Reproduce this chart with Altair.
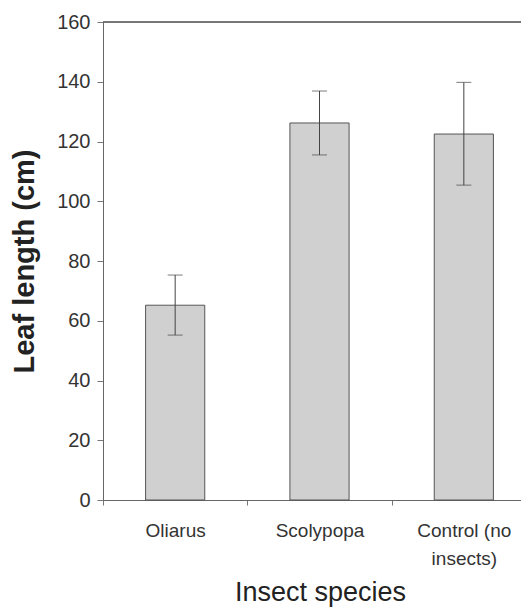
import altair as alt
import pandas as pd

species = ["Oliarus", "Scolypopa", "Control (no insects)"]
means = [65.2, 126.2, 122.5]
err_low = [55.2, 115.5, 105.4]
err_high = [75.3, 136.9, 139.8]

df = pd.DataFrame({"species": species, "mean": means, "lo": err_low, "hi": err_high})

font = "Liberation Sans"
xscale = alt.Scale(paddingInner=0, paddingOuter=0, range=[0, 433])
xenc = alt.X(
    "species:N",
    sort=species,
    scale=xscale,
    title="Insect species",
    axis=alt.Axis(
        labelAngle=0,
        labelFontSize=19,
        labelFont=font,
        labelColor="#333333",
        labelPadding=16,
        labelLineHeight=28,
        labelExpr="datum.value == 'Control (no insects)' ? ['Control (no', 'insects)'] : datum.value",
        tickBand="extent",
        tickSize=5,
        tickColor="#777777",
        domainColor="#666666",
        titleFontSize=27,
        titleFont=font,
        titleFontWeight="normal",
        titleColor="#222222",
        titlePadding=11,
        titleX=217,
    ),
)

bars = alt.Chart(df).mark_bar(
    width=alt.RelativeBandSize(0.41),
    color="#d0d0d0",
    stroke="#555555",
    strokeWidth=1,
).encode(
    x=xenc,
    y=alt.Y(
        "mean:Q",
        scale=alt.Scale(domain=[0, 160]),
        title="Leaf length (cm)",
        axis=alt.Axis(
            values=[0, 20, 40, 60, 80, 100, 120, 140, 160],
            grid=False,
            labelFontSize=20,
            labelFont=font,
            labelColor="#333333",
            labelPadding=7,
            tickSize=6,
            tickColor="#777777",
            domainColor="#666666",
            titleFontSize=29,
            titleFont=font,
            titleFontWeight="bold",
            titleColor="#222222",
            titlePadding=17,
        ),
    ),
)

top_line = alt.Chart(df).mark_rule(color="#666666", strokeWidth=1).encode(
    y=alt.datum(160)
)

rules = alt.Chart(df).mark_rule(color="#444444", strokeWidth=1).encode(
    x=alt.X("species:N", sort=species, scale=xscale),
    y="lo:Q",
    y2="hi:Q",
)

caps_hi = alt.Chart(df).mark_tick(color="#444444", size=15, thickness=1).encode(
    x=alt.X("species:N", sort=species, scale=xscale),
    y="hi:Q",
)
caps_lo = alt.Chart(df).mark_tick(color="#444444", size=15, thickness=1).encode(
    x=alt.X("species:N", sort=species, scale=xscale),
    y="lo:Q",
)

chart = (
    alt.layer(bars, top_line, rules, caps_hi, caps_lo)
    .properties(
        width=418,
        height=478,
        autosize=alt.AutoSizeParams(type="none"),
        padding={"left": 95, "top": 14, "right": 0, "bottom": 108},
    )
    .configure_view(stroke=None)
    .configure(background="white")
)

chart.save("out.html", embed_options={"renderer": "svg", "actions": False})
